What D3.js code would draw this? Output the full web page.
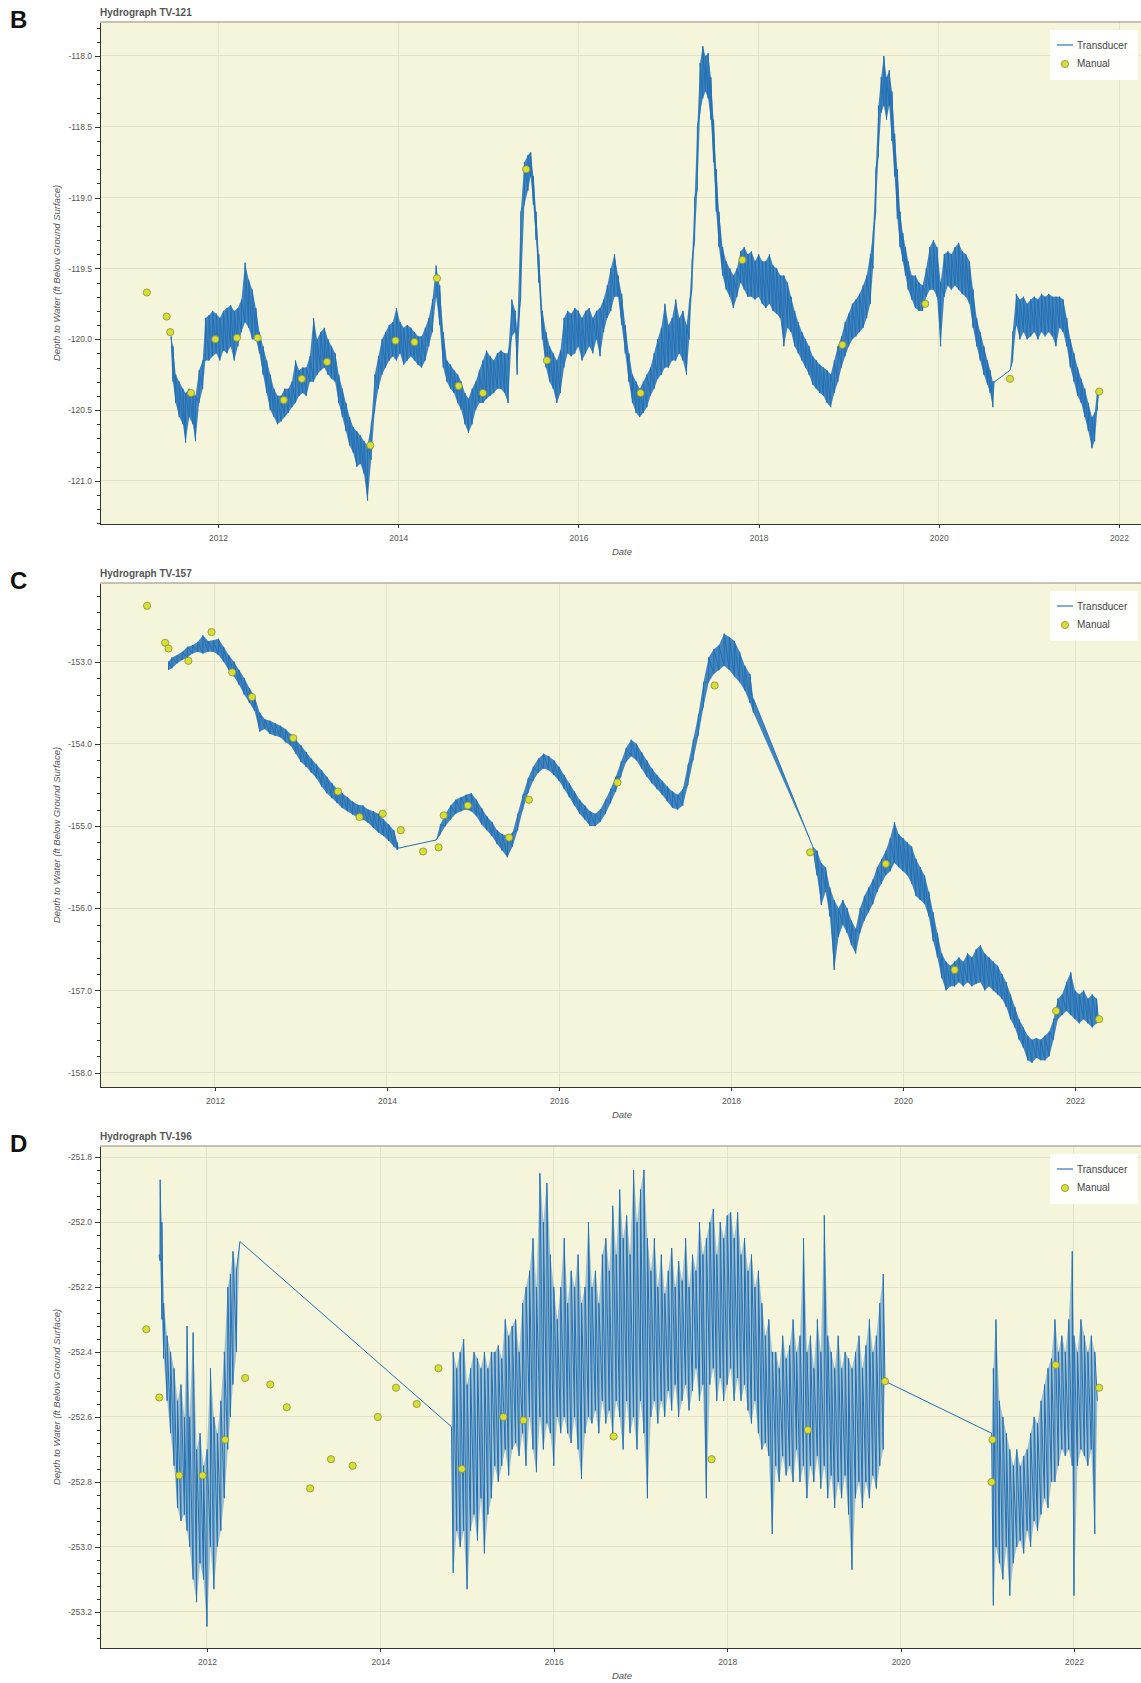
<!DOCTYPE html>
<html lang="en">
<head>
<meta charset="utf-8">
<title>Hydrographs TV-121, TV-157, TV-196</title>
<script src="https://d3js.org/d3.v7.min.js"></script>
<style>
  body { margin: 0; background: #fff; }
  svg { font-family: "Liberation Sans", Arial, sans-serif; }
  .axis path, .axis line { stroke: #333; shape-rendering: crispEdges; }
  .axis path { stroke-width: 1.5; }
  .axis text { fill: #555; font-size: 8.5px; }
  .grid line { stroke: #e2e2c6; stroke-width: 1; shape-rendering: crispEdges; }
  .letter { font-size: 24px; font-weight: bold; fill: #111; }
  .title { font-size: 10px; font-weight: bold; fill: #555; }
  .label { font-size: 9.5px; font-style: italic; fill: #555; }
  .legend text { font-size: 10px; fill: #444; }
</style>
</head>
<body>
<div id="chart"></div>
<script>
// ---- data: [decimal year, low, high] ----
var tv121Transducer = [
[2011.48,-120.00,-119.98],[2011.50,-120.30,-120.05],[2011.53,-120.45,-120.25],[2011.57,-120.55,-120.30],
[2011.61,-120.60,-120.35],[2011.64,-120.73,-120.38],[2011.68,-120.55,-120.35],[2011.72,-120.60,-120.38],
[2011.75,-120.72,-120.40],[2011.79,-120.45,-120.22],[2011.83,-120.35,-120.15],[2011.86,-120.15,-119.85],
[2011.90,-120.15,-119.83],[2011.94,-120.12,-119.80],[2011.98,-120.10,-119.82],[2012.02,-120.15,-119.85],
[2012.06,-120.08,-119.80],[2012.10,-120.10,-119.78],[2012.14,-120.05,-119.76],[2012.18,-120.15,-119.80],
[2012.22,-120.05,-119.78],[2012.26,-119.95,-119.72],[2012.30,-119.88,-119.46],[2012.34,-119.92,-119.58],
[2012.38,-120.00,-119.65],[2012.42,-120.00,-119.78],[2012.46,-120.10,-119.95],[2012.50,-120.25,-120.05],
[2012.54,-120.38,-120.15],[2012.58,-120.50,-120.25],[2012.62,-120.55,-120.35],[2012.66,-120.60,-120.40],
[2012.70,-120.58,-120.40],[2012.74,-120.55,-120.35],[2012.78,-120.52,-120.35],[2012.82,-120.48,-120.30],
[2012.86,-120.45,-120.15],[2012.90,-120.40,-120.22],[2012.94,-120.38,-120.20],[2012.98,-120.40,-120.20],
[2013.02,-120.30,-120.12],[2013.06,-120.30,-119.85],[2013.10,-120.25,-120.00],[2013.14,-120.22,-119.95],
[2013.18,-120.20,-119.92],[2013.22,-120.25,-120.00],[2013.26,-120.28,-120.05],[2013.30,-120.30,-120.10],
[2013.34,-120.45,-120.25],[2013.38,-120.55,-120.35],[2013.42,-120.65,-120.45],[2013.46,-120.75,-120.55],
[2013.50,-120.80,-120.62],[2013.54,-120.90,-120.65],[2013.58,-120.88,-120.68],[2013.62,-120.95,-120.72],
[2013.66,-121.14,-120.75],[2013.70,-120.85,-120.60],[2013.74,-120.50,-120.25],[2013.78,-120.35,-120.12],
[2013.82,-120.25,-120.00],[2013.86,-120.20,-119.95],[2013.90,-120.15,-119.90],[2013.94,-120.12,-119.88],
[2013.98,-120.15,-119.78],[2014.02,-120.10,-119.88],[2014.06,-120.18,-119.92],[2014.10,-120.15,-119.90],
[2014.14,-120.12,-119.92],[2014.18,-120.15,-119.95],[2014.22,-120.18,-119.98],[2014.26,-120.20,-119.98],
[2014.30,-120.15,-119.92],[2014.34,-120.05,-119.85],[2014.38,-119.95,-119.72],[2014.42,-119.70,-119.48],
[2014.46,-119.90,-119.62],[2014.50,-120.20,-119.95],[2014.54,-120.30,-120.15],[2014.58,-120.35,-120.18],
[2014.62,-120.38,-120.22],[2014.66,-120.45,-120.25],[2014.70,-120.50,-120.30],[2014.74,-120.60,-120.38],
[2014.78,-120.66,-120.42],[2014.82,-120.60,-120.35],[2014.86,-120.50,-120.30],[2014.90,-120.45,-120.22],
[2014.94,-120.45,-120.15],[2014.98,-120.42,-120.08],[2015.02,-120.40,-120.12],[2015.06,-120.38,-120.15],
[2015.10,-120.35,-120.10],[2015.14,-120.35,-120.08],[2015.18,-120.38,-120.10],[2015.22,-120.45,-120.10],
[2015.26,-119.98,-119.72],[2015.30,-119.95,-119.80],[2015.32,-120.25,-119.95],[2015.36,-119.70,-119.10],
[2015.40,-119.05,-118.75],[2015.44,-118.95,-118.70],[2015.47,-118.85,-118.68],[2015.50,-119.05,-118.85],
[2015.53,-119.30,-119.10],[2015.56,-119.60,-119.40],[2015.60,-120.00,-119.80],[2015.64,-120.20,-119.95],
[2015.68,-120.30,-120.05],[2015.72,-120.35,-120.10],[2015.76,-120.45,-120.15],[2015.80,-120.38,-120.08],
[2015.84,-120.20,-119.85],[2015.88,-120.10,-119.80],[2015.92,-120.12,-119.82],[2015.96,-120.10,-119.78],
[2016.00,-120.05,-119.80],[2016.04,-120.15,-119.85],[2016.08,-120.10,-119.80],[2016.12,-120.05,-119.78],
[2016.16,-120.10,-119.85],[2016.20,-120.00,-119.80],[2016.24,-120.12,-119.78],[2016.28,-119.95,-119.72],
[2016.32,-119.85,-119.62],[2016.36,-119.80,-119.50],[2016.40,-119.70,-119.40],[2016.44,-119.70,-119.55],
[2016.48,-119.90,-119.68],[2016.52,-120.10,-119.90],[2016.56,-120.30,-120.10],[2016.60,-120.45,-120.25],
[2016.64,-120.52,-120.30],[2016.68,-120.55,-120.35],[2016.72,-120.52,-120.30],[2016.76,-120.48,-120.25],
[2016.80,-120.40,-120.20],[2016.84,-120.35,-120.10],[2016.88,-120.28,-120.00],[2016.92,-120.25,-119.92],
[2016.96,-120.20,-119.75],[2017.00,-120.20,-119.90],[2017.04,-120.15,-119.85],[2017.08,-120.15,-119.72],
[2017.12,-120.10,-119.85],[2017.16,-120.15,-119.80],[2017.20,-120.25,-119.90],[2017.23,-120.00,-119.75],
[2017.26,-119.65,-119.45],[2017.29,-119.30,-119.00],[2017.32,-118.95,-118.50],[2017.35,-118.40,-118.05],
[2017.38,-118.30,-117.93],[2017.41,-118.25,-118.00],[2017.44,-118.30,-117.98],[2017.47,-118.45,-118.15],
[2017.50,-118.75,-118.45],[2017.53,-119.10,-118.80],[2017.56,-119.35,-119.10],[2017.60,-119.55,-119.35],
[2017.64,-119.65,-119.45],[2017.68,-119.70,-119.50],[2017.72,-119.78,-119.55],[2017.76,-119.70,-119.50],
[2017.80,-119.60,-119.38],[2017.84,-119.65,-119.35],[2017.88,-119.70,-119.40],[2017.92,-119.70,-119.38],
[2017.96,-119.72,-119.45],[2018.00,-119.70,-119.40],[2018.04,-119.75,-119.45],[2018.08,-119.78,-119.45],
[2018.12,-119.75,-119.40],[2018.16,-119.80,-119.48],[2018.20,-119.82,-119.50],[2018.24,-119.85,-119.55],
[2018.28,-120.05,-119.55],[2018.32,-119.92,-119.60],[2018.36,-119.95,-119.70],[2018.40,-120.05,-119.80],
[2018.44,-120.10,-119.88],[2018.48,-120.15,-119.95],[2018.52,-120.20,-120.00],[2018.56,-120.25,-120.05],
[2018.60,-120.32,-120.12],[2018.64,-120.35,-120.15],[2018.68,-120.38,-120.18],[2018.72,-120.40,-120.20],
[2018.76,-120.45,-120.22],[2018.80,-120.48,-120.25],[2018.84,-120.38,-120.15],[2018.88,-120.30,-120.05],
[2018.92,-120.20,-119.98],[2018.96,-120.12,-119.88],[2019.00,-120.05,-119.82],[2019.04,-120.00,-119.75],
[2019.08,-119.98,-119.72],[2019.12,-119.95,-119.68],[2019.16,-119.92,-119.62],[2019.20,-119.85,-119.55],
[2019.24,-119.75,-119.40],[2019.27,-119.50,-119.25],[2019.30,-119.10,-118.80],[2019.33,-118.70,-118.35],
[2019.36,-118.40,-118.15],[2019.39,-118.35,-118.00],[2019.42,-118.45,-118.15],[2019.45,-118.35,-118.10],
[2019.48,-118.60,-118.25],[2019.51,-118.85,-118.55],[2019.54,-119.15,-118.80],[2019.57,-119.35,-119.10],
[2019.60,-119.45,-119.25],[2019.63,-119.55,-119.35],[2019.66,-119.65,-119.45],[2019.70,-119.72,-119.55],
[2019.74,-119.78,-119.55],[2019.78,-119.80,-119.60],[2019.82,-119.80,-119.62],[2019.86,-119.70,-119.50],
[2019.90,-119.65,-119.35],[2019.94,-119.65,-119.30],[2019.98,-119.70,-119.35],[2020.02,-120.05,-119.60],
[2020.06,-119.70,-119.40],[2020.10,-119.62,-119.38],[2020.14,-119.65,-119.40],[2020.18,-119.62,-119.35],
[2020.22,-119.65,-119.32],[2020.26,-119.68,-119.38],[2020.30,-119.70,-119.40],[2020.34,-119.75,-119.45],
[2020.38,-119.92,-119.65],[2020.42,-120.05,-119.85],[2020.46,-120.15,-119.95],[2020.50,-120.25,-120.05],
[2020.54,-120.32,-120.15],[2020.57,-120.38,-120.22],[2020.60,-120.48,-120.30],[2020.62,-120.30,-120.30],
[2020.79,-120.22,-120.22],[2020.82,-120.15,-119.95],[2020.86,-119.90,-119.68],[2020.90,-120.00,-119.72],
[2020.94,-119.95,-119.70],[2020.98,-120.00,-119.75],[2021.02,-119.98,-119.72],[2021.06,-119.95,-119.70],
[2021.10,-120.00,-119.72],[2021.14,-119.95,-119.68],[2021.18,-119.98,-119.70],[2021.22,-119.95,-119.68],
[2021.26,-119.98,-119.70],[2021.30,-120.05,-119.70],[2021.34,-119.92,-119.70],[2021.38,-119.95,-119.72],
[2021.42,-120.05,-119.85],[2021.46,-120.20,-120.00],[2021.50,-120.30,-120.10],[2021.54,-120.40,-120.20],
[2021.58,-120.45,-120.28],[2021.62,-120.55,-120.35],[2021.66,-120.65,-120.45],[2021.70,-120.77,-120.55],
[2021.73,-120.72,-120.52],[2021.76,-120.50,-120.35],[2021.78,-120.38,-120.38]
];
var tv121Manual = [
[2011.21,-119.67],[2011.43,-119.84],[2011.47,-119.95],[2011.70,-120.38],[2011.97,-120.00],[2012.21,-119.99],
[2012.44,-119.99],[2012.73,-120.43],[2012.93,-120.28],[2013.21,-120.16],[2013.69,-120.75],[2013.97,-120.01],
[2014.18,-120.02],[2014.43,-119.57],[2014.67,-120.33],[2014.94,-120.38],[2015.42,-118.80],[2015.65,-120.15],
[2016.69,-120.38],[2017.82,-119.44],[2018.93,-120.04],[2019.85,-119.75],[2020.79,-120.28],[2021.78,-120.37]
];

var tv157Transducer = [
[2011.46,-153.10,-153.00],[2011.50,-153.08,-152.95],[2011.56,-153.02,-152.92],[2011.62,-152.98,-152.88],
[2011.68,-152.95,-152.82],[2011.74,-152.90,-152.80],[2011.80,-152.88,-152.76],[2011.86,-152.90,-152.68],
[2011.92,-152.88,-152.75],[2011.98,-152.88,-152.74],[2012.04,-152.92,-152.72],[2012.10,-153.00,-152.82],
[2012.16,-153.10,-152.92],[2012.22,-153.18,-153.00],[2012.28,-153.28,-153.10],[2012.34,-153.40,-153.20],
[2012.40,-153.50,-153.32],[2012.46,-153.60,-153.42],[2012.52,-153.85,-153.62],[2012.58,-153.82,-153.70],
[2012.64,-153.88,-153.72],[2012.70,-153.90,-153.75],[2012.76,-153.92,-153.78],[2012.82,-153.98,-153.82],
[2012.88,-154.02,-153.88],[2012.94,-154.12,-153.95],[2013.00,-154.22,-154.02],[2013.06,-154.28,-154.10],
[2013.12,-154.35,-154.18],[2013.18,-154.42,-154.25],[2013.24,-154.52,-154.32],[2013.30,-154.60,-154.40],
[2013.36,-154.66,-154.48],[2013.42,-154.72,-154.55],[2013.48,-154.78,-154.60],[2013.54,-154.82,-154.65],
[2013.60,-154.86,-154.70],[2013.66,-154.90,-154.74],[2013.72,-154.92,-154.75],[2013.78,-154.96,-154.80],
[2013.84,-155.02,-154.82],[2013.90,-155.08,-154.85],[2013.96,-155.12,-154.92],[2014.02,-155.18,-154.98],
[2014.08,-155.25,-155.05],[2014.12,-155.29,-155.20],[2014.13,-155.27,-155.27],[2014.57,-155.17,-155.17],
[2014.62,-155.10,-154.98],[2014.68,-155.00,-154.85],[2014.74,-154.92,-154.75],[2014.80,-154.85,-154.68],
[2014.86,-154.82,-154.65],[2014.92,-154.80,-154.62],[2014.98,-154.82,-154.60],[2015.04,-154.88,-154.68],
[2015.10,-154.98,-154.78],[2015.16,-155.05,-154.88],[2015.22,-155.12,-154.95],[2015.28,-155.22,-155.05],
[2015.34,-155.30,-155.10],[2015.40,-155.38,-155.12],[2015.46,-155.25,-155.08],[2015.52,-155.05,-154.85],
[2015.58,-154.80,-154.62],[2015.64,-154.60,-154.42],[2015.70,-154.45,-154.28],[2015.76,-154.35,-154.18],
[2015.82,-154.30,-154.12],[2015.88,-154.32,-154.15],[2015.94,-154.38,-154.20],[2016.00,-154.45,-154.28],
[2016.06,-154.55,-154.38],[2016.12,-154.65,-154.48],[2016.18,-154.75,-154.58],[2016.24,-154.85,-154.68],
[2016.30,-154.92,-154.75],[2016.36,-155.00,-154.82],[2016.42,-155.00,-154.85],[2016.48,-154.95,-154.80],
[2016.54,-154.85,-154.68],[2016.60,-154.72,-154.55],[2016.66,-154.58,-154.40],[2016.72,-154.40,-154.22],
[2016.78,-154.22,-154.05],[2016.84,-154.15,-153.95],[2016.90,-154.20,-154.00],[2016.96,-154.30,-154.10],
[2017.02,-154.40,-154.20],[2017.08,-154.48,-154.30],[2017.14,-154.55,-154.38],[2017.20,-154.62,-154.45],
[2017.26,-154.70,-154.52],[2017.32,-154.78,-154.58],[2017.38,-154.80,-154.62],[2017.44,-154.75,-154.55],
[2017.50,-154.50,-154.25],[2017.56,-154.20,-153.95],[2017.62,-153.90,-153.65],[2017.68,-153.55,-153.25],
[2017.74,-153.25,-152.95],[2017.80,-153.15,-152.85],[2017.86,-153.10,-152.80],[2017.92,-153.05,-152.66],
[2017.98,-153.10,-152.70],[2018.04,-153.18,-152.75],[2018.10,-153.25,-152.88],[2018.16,-153.35,-153.05],
[2018.22,-153.50,-153.15],[2018.26,-153.62,-153.45],[2018.95,-155.25,-155.25],[2019.00,-155.60,-155.30],
[2019.05,-155.96,-155.45],[2019.10,-155.80,-155.50],[2019.15,-156.10,-155.75],[2019.20,-156.75,-155.90],
[2019.25,-156.35,-156.00],[2019.30,-156.20,-155.90],[2019.35,-156.30,-156.00],[2019.40,-156.45,-156.15],
[2019.45,-156.55,-156.25],[2019.50,-156.30,-156.00],[2019.55,-156.15,-155.85],[2019.60,-156.05,-155.75],
[2019.65,-155.95,-155.65],[2019.70,-155.80,-155.50],[2019.75,-155.70,-155.40],[2019.80,-155.60,-155.30],
[2019.85,-155.55,-155.15],[2019.90,-155.45,-154.95],[2019.95,-155.50,-155.10],[2020.00,-155.55,-155.15],
[2020.05,-155.60,-155.20],[2020.10,-155.70,-155.25],[2020.15,-155.85,-155.40],[2020.20,-155.90,-155.50],
[2020.25,-155.95,-155.60],[2020.30,-156.10,-155.80],[2020.35,-156.40,-156.05],[2020.40,-156.60,-156.30],
[2020.45,-156.85,-156.55],[2020.50,-157.00,-156.65],[2020.55,-156.95,-156.70],[2020.60,-156.95,-156.65],
[2020.65,-156.90,-156.60],[2020.70,-156.95,-156.65],[2020.75,-156.90,-156.55],[2020.80,-156.95,-156.60],
[2020.85,-156.92,-156.50],[2020.90,-156.90,-156.45],[2020.95,-157.00,-156.55],[2021.00,-156.95,-156.60],
[2021.05,-157.00,-156.65],[2021.10,-157.05,-156.70],[2021.15,-157.10,-156.80],[2021.20,-157.20,-156.90],
[2021.25,-157.35,-157.05],[2021.30,-157.45,-157.20],[2021.35,-157.60,-157.35],[2021.40,-157.70,-157.45],
[2021.45,-157.85,-157.55],[2021.50,-157.88,-157.60],[2021.55,-157.82,-157.58],[2021.60,-157.85,-157.60],
[2021.65,-157.85,-157.55],[2021.70,-157.80,-157.50],[2021.75,-157.60,-157.35],[2021.80,-157.35,-157.10],
[2021.85,-157.30,-157.05],[2021.90,-157.25,-156.90],[2021.95,-157.30,-156.78],[2022.00,-157.35,-157.00],
[2022.05,-157.40,-157.05],[2022.10,-157.35,-157.00],[2022.15,-157.40,-157.10],[2022.20,-157.45,-157.05],
[2022.25,-157.40,-157.10],[2022.27,-157.33,-157.33]
];
var tv157Manual = [
[2011.21,-152.32],[2011.42,-152.77],[2011.46,-152.84],[2011.69,-152.99],[2011.96,-152.64],[2012.20,-153.13],
[2012.43,-153.43],[2012.91,-153.93],[2013.43,-154.58],[2013.68,-154.89],[2013.95,-154.85],[2014.16,-155.05],
[2014.42,-155.31],[2014.60,-155.26],[2014.66,-154.87],[2014.94,-154.75],[2015.42,-155.14],[2015.65,-154.68],
[2016.68,-154.47],[2017.81,-153.29],[2018.92,-155.32],[2019.80,-155.46],[2020.60,-156.75],[2021.78,-157.25],
[2022.28,-157.35]
];

var tv196Transducer = [
[2011.45,-252.11,-252.10],[2011.46,-252.12,-251.87],[2011.48,-252.30,-252.00],[2011.50,-252.42,-252.25],
[2011.54,-252.55,-252.35],[2011.58,-252.65,-252.40],[2011.62,-252.75,-252.45],[2011.66,-252.88,-252.55],
[2011.70,-252.92,-252.50],[2011.74,-252.90,-252.60],[2011.77,-252.95,-252.32],[2011.80,-253.00,-252.60],
[2011.84,-253.10,-252.34],[2011.88,-253.17,-252.70],[2011.92,-253.05,-252.65],[2011.96,-253.10,-252.75],
[2012.00,-253.245,-252.70],[2012.04,-253.00,-252.45],[2012.08,-253.13,-252.60],[2012.12,-253.00,-252.65],
[2012.16,-252.95,-252.55],[2012.20,-252.85,-252.40],[2012.24,-252.70,-252.20],[2012.27,-252.60,-252.16],
[2012.30,-252.50,-252.09],[2012.34,-252.40,-252.15],[2012.38,-252.06,-252.06],[2014.82,-252.63,-252.63],
[2014.84,-253.08,-252.40],[2014.88,-252.95,-252.45],[2014.92,-253.00,-252.40],[2014.96,-252.95,-252.36],
[2015.00,-253.13,-252.50],[2015.04,-252.95,-252.45],[2015.08,-252.90,-252.40],[2015.12,-252.98,-252.42],
[2015.16,-252.85,-252.45],[2015.20,-253.02,-252.40],[2015.24,-252.90,-252.45],[2015.28,-252.85,-252.40],
[2015.32,-252.75,-252.40],[2015.36,-252.80,-252.38],[2015.40,-252.75,-252.42],[2015.44,-252.70,-252.30],
[2015.48,-252.78,-252.35],[2015.52,-252.70,-252.32],[2015.56,-252.68,-252.30],[2015.60,-252.72,-252.40],
[2015.64,-252.65,-252.25],[2015.68,-252.75,-252.20],[2015.72,-252.60,-252.15],[2015.76,-252.70,-252.05],
[2015.80,-252.77,-252.20],[2015.84,-252.60,-251.85],[2015.88,-252.70,-252.00],[2015.92,-252.62,-251.88],
[2015.96,-252.65,-252.10],[2016.00,-252.75,-252.20],[2016.04,-252.60,-252.30],[2016.08,-252.65,-252.20],
[2016.12,-252.60,-252.05],[2016.16,-252.65,-252.25],[2016.20,-252.68,-252.15],[2016.24,-252.60,-252.20],
[2016.28,-252.70,-252.10],[2016.32,-252.79,-252.25],[2016.36,-252.65,-252.20],[2016.40,-252.60,-252.00],
[2016.44,-252.62,-252.20],[2016.48,-252.58,-252.15],[2016.52,-252.65,-252.25],[2016.56,-252.55,-252.10],
[2016.60,-252.62,-252.05],[2016.64,-252.58,-252.15],[2016.68,-252.65,-251.95],[2016.72,-252.55,-252.10],
[2016.76,-252.60,-251.90],[2016.80,-252.70,-252.05],[2016.84,-252.55,-251.98],[2016.88,-252.65,-252.10],
[2016.92,-252.60,-251.84],[2016.96,-252.70,-252.00],[2017.00,-252.55,-251.90],[2017.04,-252.65,-251.84],
[2017.08,-252.85,-252.05],[2017.12,-252.60,-252.15],[2017.16,-252.55,-252.05],[2017.20,-252.62,-252.20],
[2017.24,-252.55,-252.10],[2017.28,-252.60,-252.22],[2017.32,-252.52,-252.15],[2017.36,-252.58,-252.08],
[2017.40,-252.50,-252.20],[2017.44,-252.60,-252.12],[2017.48,-252.55,-252.18],[2017.52,-252.50,-252.05],
[2017.56,-252.58,-252.20],[2017.60,-252.52,-252.10],[2017.64,-252.45,-252.15],[2017.68,-252.55,-252.00],
[2017.72,-252.50,-252.10],[2017.76,-252.85,-252.05],[2017.80,-252.50,-252.00],[2017.84,-252.45,-251.96],
[2017.88,-252.55,-252.10],[2017.92,-252.48,-252.00],[2017.96,-252.55,-252.05],[2018.00,-252.50,-251.98],
[2018.04,-252.45,-251.97],[2018.08,-252.55,-252.05],[2018.12,-252.48,-251.97],[2018.16,-252.55,-252.10],
[2018.20,-252.50,-252.05],[2018.24,-252.58,-252.15],[2018.28,-252.62,-252.10],[2018.32,-252.55,-252.20],
[2018.36,-252.65,-252.15],[2018.40,-252.70,-252.25],[2018.44,-252.68,-252.35],[2018.48,-252.72,-252.30],
[2018.52,-252.96,-252.40],[2018.56,-252.75,-252.40],[2018.60,-252.80,-252.45],[2018.64,-252.72,-252.35],
[2018.68,-252.78,-252.42],[2018.72,-252.75,-252.38],[2018.76,-252.80,-252.30],[2018.80,-252.70,-252.40],
[2018.84,-252.80,-252.35],[2018.88,-252.75,-252.05],[2018.92,-252.85,-252.40],[2018.96,-252.75,-252.35],
[2019.00,-252.80,-252.45],[2019.04,-252.72,-252.30],[2019.08,-252.82,-252.40],[2019.12,-252.75,-251.98],
[2019.16,-252.85,-252.35],[2019.20,-252.78,-252.40],[2019.24,-252.88,-252.45],[2019.28,-252.80,-252.35],
[2019.32,-252.85,-252.45],[2019.36,-252.78,-252.40],[2019.40,-252.90,-252.42],[2019.44,-253.07,-252.45],
[2019.48,-252.85,-252.40],[2019.52,-252.80,-252.35],[2019.56,-252.88,-252.45],[2019.60,-252.80,-252.38],
[2019.64,-252.85,-252.30],[2019.68,-252.78,-252.40],[2019.72,-252.82,-252.35],[2019.76,-252.75,-252.25],
[2019.80,-252.70,-252.16],[2019.82,-252.49,-252.49],[2021.05,-252.65,-252.65],[2021.07,-253.18,-252.45],
[2021.10,-253.00,-252.30],[2021.14,-253.05,-252.55],[2021.18,-253.10,-252.60],[2021.22,-253.00,-252.65],
[2021.26,-253.15,-252.70],[2021.30,-253.05,-252.75],[2021.34,-253.00,-252.70],[2021.38,-252.98,-252.75],
[2021.42,-253.02,-252.72],[2021.46,-252.95,-252.70],[2021.50,-253.00,-252.65],[2021.54,-252.92,-252.60],
[2021.58,-252.95,-252.62],[2021.62,-252.90,-252.55],[2021.66,-252.85,-252.50],[2021.70,-252.88,-252.45],
[2021.74,-252.80,-252.42],[2021.78,-252.80,-252.30],[2021.82,-252.75,-252.40],[2021.86,-252.70,-252.35],
[2021.90,-252.72,-252.40],[2021.94,-252.70,-252.30],[2021.98,-252.75,-252.09],[2022.00,-253.15,-252.35],
[2022.04,-252.75,-252.40],[2022.08,-252.70,-252.30],[2022.12,-252.72,-252.35],[2022.16,-252.75,-252.40],
[2022.20,-252.70,-252.35],[2022.24,-252.96,-252.40],[2022.27,-252.55,-252.55]
];
var tv196Manual = [
[2011.30,-252.33],[2011.45,-252.54],[2011.68,-252.78],[2011.95,-252.78],[2012.21,-252.67],[2012.44,-252.48],
[2012.73,-252.50],[2012.92,-252.57],[2013.19,-252.82],[2013.43,-252.73],[2013.68,-252.75],[2013.97,-252.60],
[2014.18,-252.51],[2014.42,-252.56],[2014.67,-252.45],[2014.94,-252.76],[2015.42,-252.60],[2015.65,-252.61],
[2016.69,-252.66],[2017.82,-252.73],[2018.93,-252.64],[2019.82,-252.49],[2021.06,-252.67],[2021.05,-252.80],
[2021.79,-252.44],[2022.29,-252.51]
];

var yearTicks = [2012, 2014, 2016, 2018, 2020, 2022];
var legendLabels = ["Transducer", "Manual"];

// ---- layout ----
var W = 1141, H = 1683;
var plotLeft = 100, plotRight = 1141;
var lineColor = "#2270b6";

var panels = [
  {id: "b", letter: "B", title: "Hydrograph TV-121", top: 22, bottom: 524,
   xDom: [2010.690, 2022.244], yDom: [-121.305, -117.760], major: 0.5, minor: 0.1,
   trace: tv121Transducer, manual: tv121Manual, bandOpacity: 0.85},
  {id: "c", letter: "C", title: "Hydrograph TV-157", top: 583, bottom: 1087,
   xDom: [2010.663, 2022.767], yDom: [-158.175, -152.043], major: 1, minor: 0.2,
   trace: tv157Transducer, manual: tv157Manual, bandOpacity: 0.85},
  {id: "d", letter: "D", title: "Hydrograph TV-196", top: 1146, bottom: 1648,
   xDom: [2010.766, 2022.773], yDom: [-253.311, -251.766], major: 0.2, minor: 0.04,
   trace: tv196Transducer, manual: tv196Manual, bandOpacity: 0.4}
];

function stepTicks(dom, step) {
  var lo = Math.ceil(dom[0] / step - 1e-6), hi = Math.floor(dom[1] / step + 1e-6);
  return d3.range(lo, hi + 1).map(function(k) { return +(k * step).toFixed(4); });
}

var svg = d3.select("#chart").append("svg")
    .attr("width", W)
    .attr("height", H);

panels.forEach(function(p) {
  var x = d3.scaleLinear().domain(p.xDom).range([plotLeft, plotRight]);
  var y = d3.scaleLinear().domain(p.yDom).range([p.bottom, p.top]);
  var majors = stepTicks(p.yDom, p.major);
  var minors = stepTicks(p.yDom, p.minor);
  var g = svg.append("g");

  // panel letter + title
  g.append("text").attr("class", "letter").attr("x", 10).attr("y", p.top + 6).text(p.letter);
  g.append("text").attr("class", "title").attr("x", plotLeft).attr("y", p.top - 6).text(p.title);

  // plot background
  g.append("rect")
    .attr("x", plotLeft).attr("y", p.top)
    .attr("width", plotRight - plotLeft).attr("height", p.bottom - p.top)
    .attr("fill", "#f5f5dc");

  // grid
  var grid = g.append("g").attr("class", "grid");
  grid.selectAll(".h").data(majors).enter().append("line")
    .attr("x1", plotLeft).attr("x2", plotRight)
    .attr("y1", function(d) { return y(d); }).attr("y2", function(d) { return y(d); });
  grid.selectAll(".v").data(yearTicks).enter().append("line")
    .attr("y1", p.top).attr("y2", p.bottom)
    .attr("x1", function(d) { return x(d); }).attr("x2", function(d) { return x(d); });

  // top border
  g.append("line")
    .attr("x1", plotLeft).attr("x2", plotRight).attr("y1", p.top).attr("y2", p.top)
    .attr("stroke", "#b5ae9e").attr("stroke-width", 1.5);

  g.append("clipPath").attr("id", "clip-" + p.id)
    .append("rect").attr("x", plotLeft).attr("y", p.top)
    .attr("width", plotRight - plotLeft).attr("height", p.bottom - p.top);
  var plot = g.append("g").attr("clip-path", "url(#clip-" + p.id + ")");

  // transducer: low/high band plus a saw path through the readings
  plot.append("path")
    .datum(p.trace)
    .attr("fill", lineColor)
    .attr("fill-opacity", p.bandOpacity)
    .attr("d", d3.area()
      .x(function(d) { return x(d[0]); })
      .y0(function(d) { return y(d[1]); })
      .y1(function(d) { return y(d[2]); }));
  var saw = [];
  p.trace.forEach(function(d) { saw.push([d[0], d[1]]); saw.push([d[0], d[2]]); });
  plot.append("path")
    .datum(saw)
    .attr("fill", "none")
    .attr("stroke", lineColor)
    .attr("stroke-width", 1)
    .attr("d", d3.line()
      .x(function(d) { return x(d[0]); })
      .y(function(d) { return y(d[1]); }));

  // manual readings
  plot.selectAll("circle").data(p.manual).enter().append("circle")
    .attr("cx", function(d) { return x(d[0]); })
    .attr("cy", function(d) { return y(d[1]); })
    .attr("r", 3.6)
    .attr("fill", "#d6de3a")
    .attr("stroke", "#8d8e2c")
    .attr("stroke-width", 0.8);

  // axes
  g.append("g").attr("class", "axis")
    .attr("transform", "translate(" + plotLeft + ",0)")
    .call(d3.axisLeft(y).tickValues(minors).tickSize(3).tickSizeOuter(0).tickFormat(""));
  g.append("g").attr("class", "axis")
    .attr("transform", "translate(" + plotLeft + ",0)")
    .call(d3.axisLeft(y).tickValues(majors).tickSize(5).tickSizeOuter(0).tickPadding(3)
      .tickFormat(function(d) { return d.toFixed(1); }));
  g.append("g").attr("class", "axis")
    .attr("transform", "translate(0," + p.bottom + ")")
    .call(d3.axisBottom(x).tickValues(yearTicks).tickSize(4).tickSizeOuter(0).tickPadding(7)
      .tickFormat(d3.format("d")));

  // axis titles
  g.append("text").attr("class", "label")
    .attr("x", 622).attr("y", p.bottom + 31)
    .attr("text-anchor", "middle").text("Date");
  g.append("text").attr("class", "label")
    .attr("transform", "translate(60," + ((p.top + p.bottom) / 2) + ") rotate(-90)")
    .attr("text-anchor", "middle")
    .text("Depth to Water (ft Below Ground Surface)");

  // legend
  var lg = g.append("g").attr("class", "legend")
    .attr("transform", "translate(1050," + (p.top + 8) + ")");
  lg.append("rect").attr("width", 88).attr("height", 50).attr("fill", "#fff").attr("opacity", 0.92);
  lg.append("line").attr("x1", 7).attr("x2", 23).attr("y1", 15).attr("y2", 15)
    .attr("stroke", "#5b8fc8").attr("stroke-width", 1.5);
  lg.append("circle").attr("cx", 15).attr("cy", 34).attr("r", 3.6)
    .attr("fill", "#d6de3a").attr("stroke", "#8d8e2c").attr("stroke-width", 0.8);
  lg.selectAll("text").data(legendLabels).enter().append("text")
    .attr("x", 27)
    .attr("y", function(d, i) { return 18.5 + i * 18; })
    .text(function(d) { return d; });
});
</script>
</body>
</html>
